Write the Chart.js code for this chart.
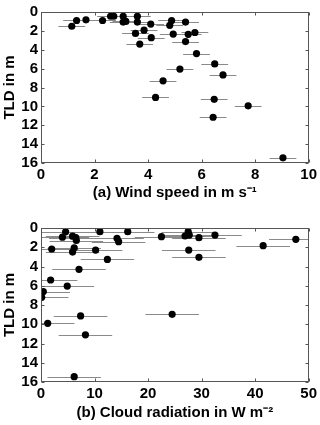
<!DOCTYPE html>
<html><head><meta charset="utf-8">
<script src="https://cdn.jsdelivr.net/npm/chart.js@4"></script>
<style>
html,body{margin:0;padding:0;background:#fff;width:320px;height:425px;overflow:hidden}
.c{position:absolute;left:0;width:320px}
</style></head><body>
<div class="c" style="top:0;height:212px"><canvas id="a"></canvas></div>
<div class="c" style="top:212px;height:213px"><canvas id="b"></canvas></div>
<script>
// Panel (a): wind speed (m s^-1) vs TLD (m)
const windSpeed = [1.15,1.33,1.68,2.3,2.6,2.72,3.07,3.07,3.17,3.6,3.6,4.1,3.85,3.53,4.12,3.69,4.88,4.81,5.4,4.94,5.5,5.75,5.4,5.81,6.49,5.19,6.8,4.56,4.28,6.47,7.74,6.43,9.04];
const windTLD   = [1.51,0.9,0.83,0.9,0.45,0.45,0.45,1.07,1.0,0.45,1.07,1.28,1.93,2.27,2.72,3.4,0.9,1.41,1.07,2.34,2.37,2.17,3.13,4.4,5.5,6.05,6.67,7.29,9.05,9.25,9.94,11.15,15.45];
const windErr = 0.5;
// Panel (b): cloud radiation (W m^-2) vs TLD (m)
const cloudRad = [4.6,4.0,5.9,6.5,6.6,11.0,14.2,14.5,16.2,2.0,6.2,5.9,10.2,12.4,7.1,1.8,4.9,0.43,0.13,7.4,24.5,22.5,26.9,27.5,27.7,29.5,32.5,27.6,29.5,41.5,47.6,1.25,8.3,6.2];
const cloudTLD = [0.4,0.95,0.85,1.0,1.3,0.38,1.07,1.42,0.38,2.18,2.05,2.5,2.29,3.26,4.29,5.4,6.03,6.6,7.2,9.14,8.97,0.9,0.83,0.38,0.73,1.0,0.73,2.29,3.05,1.84,1.18,9.9,11.1,15.45];
const cloudErr = 5;
const yTickStep = 2;
const titleA = '(a) Wind speed in m s\u207B\u00B9';
const titleB = '(b) Cloud radiation in W m\u207B\u00B2';
const yTitle = 'TLD in m';

const FONT = {family:"'Liberation Sans', Arial, sans-serif", weight:'bold', size:15};

const boxPlugin = {
  id:'boxPlugin',
  beforeDatasetsDraw(chart){
    const {ctx, chartArea:a, scales:{x,y}} = chart;
    const err = chart.options.plugins.boxPlugin.err;
    ctx.save();
    ctx.beginPath(); ctx.rect(a.left, a.top, a.right-a.left, a.bottom-a.top); ctx.clip();
    ctx.strokeStyle = '#8a8a8a'; ctx.lineWidth = 1;
    chart.data.datasets[0].data.forEach(p=>{
      const py = Math.round(y.getPixelForValue(p.y))+0.5;
      ctx.beginPath();
      ctx.moveTo(x.getPixelForValue(p.x-err), py);
      ctx.lineTo(x.getPixelForValue(p.x+err), py);
      ctx.stroke();
    });
    ctx.restore();
  },
  afterDraw(chart){
    const {ctx, chartArea:a, scales:{x,y}} = chart;
    ctx.save();
    ctx.strokeStyle = '#555'; ctx.lineWidth = 1;
    const L = Math.round(a.left)+0.5, R = Math.round(a.right)-0.5, T = Math.round(a.top)+0.5, B = Math.round(a.bottom)-0.5;
    ctx.strokeRect(L, T, R-L, B-T);
    ctx.beginPath();
    x.ticks.forEach(t=>{
      const px = Math.round(x.getPixelForValue(t.value))+0.5;
      ctx.moveTo(px, B); ctx.lineTo(px, B-3);
      ctx.moveTo(px, T); ctx.lineTo(px, T+3);
    });
    y.ticks.forEach(t=>{
      const py = Math.round(y.getPixelForValue(t.value))+0.5;
      ctx.moveTo(L, py); ctx.lineTo(L+3, py);
      ctx.moveTo(R, py); ctx.lineTo(R-3, py);
    });
    ctx.stroke();
    ctx.restore();
  }
};

function makeChart(id, xs, ys, err, xMax, xStep, title, padTop, xHeight, titlePadBottom){
  return new Chart(document.getElementById(id), {
    type:'scatter',
    data:{datasets:[{data: xs.map((v,i)=>({x:v, y:ys[i]})), backgroundColor:'#000', borderWidth:0, pointRadius:3.6, pointHoverRadius:3.6}]},
    options:{
      responsive:true, maintainAspectRatio:false, animation:false,
      layout:{padding:{top:padTop, right:11, left:0, bottom:0}},
      plugins:{legend:{display:false}, tooltip:{enabled:false}, boxPlugin:{err:err}},
      scales:{
        x:{type:'linear', min:0, max:xMax,
           ticks:{stepSize:xStep, color:'#000', font:FONT, padding:3, maxRotation:0, autoSkip:false},
           grid:{display:false, drawTicks:false}, border:{display:false},
           title:{display:true, text:title, color:'#000', font:FONT, padding:{top:0,bottom:titlePadBottom}},
           afterFit(s){ s.height = xHeight; }},
        y:{type:'linear', reverse:true, min:0, max:16,
           ticks:{stepSize:yTickStep, color:'#000', font:FONT, padding:3, autoSkip:false},
           grid:{display:false, drawTicks:false}, border:{display:false},
           title:{display:true, text:yTitle, color:'#000', font:FONT, padding:{top:1,bottom:0}},
           afterFit(s){ s.width = 41; }}
      }
    },
    plugins:[boxPlugin]
  });
}
makeChart('a', windSpeed, windTLD, windErr, 10, 2, titleA, 8, 49, 10);
makeChart('b', cloudRad, cloudTLD, cloudErr, 50, 10, titleB, 16, 43, 3);
</script>
</body></html>
